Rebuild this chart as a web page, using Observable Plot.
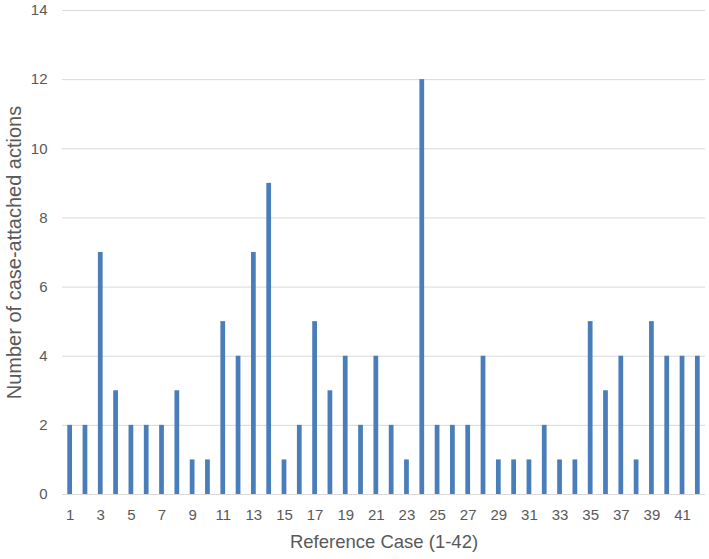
<!DOCTYPE html>
<html><head><meta charset="utf-8">
<script src="https://cdn.jsdelivr.net/npm/d3@7"></script>
<script src="https://cdn.jsdelivr.net/npm/@observablehq/plot@0.6"></script>
<style>
body{margin:0;background:#fff;}
#chart svg text{font-family:"Liberation Sans",Arial,sans-serif;fill:#595959;}
#chart svg [aria-label="y-axis tick label"] text,
#chart svg [aria-label="x-axis tick label"] text{font-size:15px;}
#chart svg [aria-label="x-axis label"] text{font-size:18.5px;}
#chart svg [aria-label="y-axis label"] text{font-size:20px;}
</style>
</head><body><div id="chart"></div>
<script>
const cases = d3.range(1, 43);
const actions = [2,2,7,3,2,2,2,3,1,1,5,4,7,9,1,2,5,3,4,2,4,2,1,12,2,2,2,4,1,1,1,2,1,1,5,3,4,1,5,4,4,4];
const yTicks = [0,2,4,6,8,10,12,14];
const xTicks = cases.filter(c => c % 2 === 1);
const data = cases.map((c, i) => ({c, v: actions[i]}));

const chart = Plot.plot({
  width: 709, height: 559,
  marginLeft: 62, marginRight: 4, marginTop: 10, marginBottom: 65,
  x: {domain: cases, paddingInner: 0.69, paddingOuter: 0.345, align: 0.5, round: false},
  y: {domain: [0, 14]},
  marks: [
    Plot.gridY(yTicks, {stroke: "#d9d9d9", strokeOpacity: 1, strokeWidth: 1}),
    Plot.barY(data, {x: "c", y: "v", fill: "#4a7ebb"}),
    Plot.axisY(yTicks, {tickSize: 0, tickPadding: 15,
      label: "Number of case-attached actions", labelAnchor: "center", labelArrow: "none", labelOffset: 56}),
    Plot.axisX(xTicks, {tickSize: 0, tickPadding: 15,
      label: "Reference Case (1-42)", labelAnchor: "center", labelArrow: "none", labelOffset: 53})
  ]
});
document.getElementById("chart").append(chart);
</script></body></html>
